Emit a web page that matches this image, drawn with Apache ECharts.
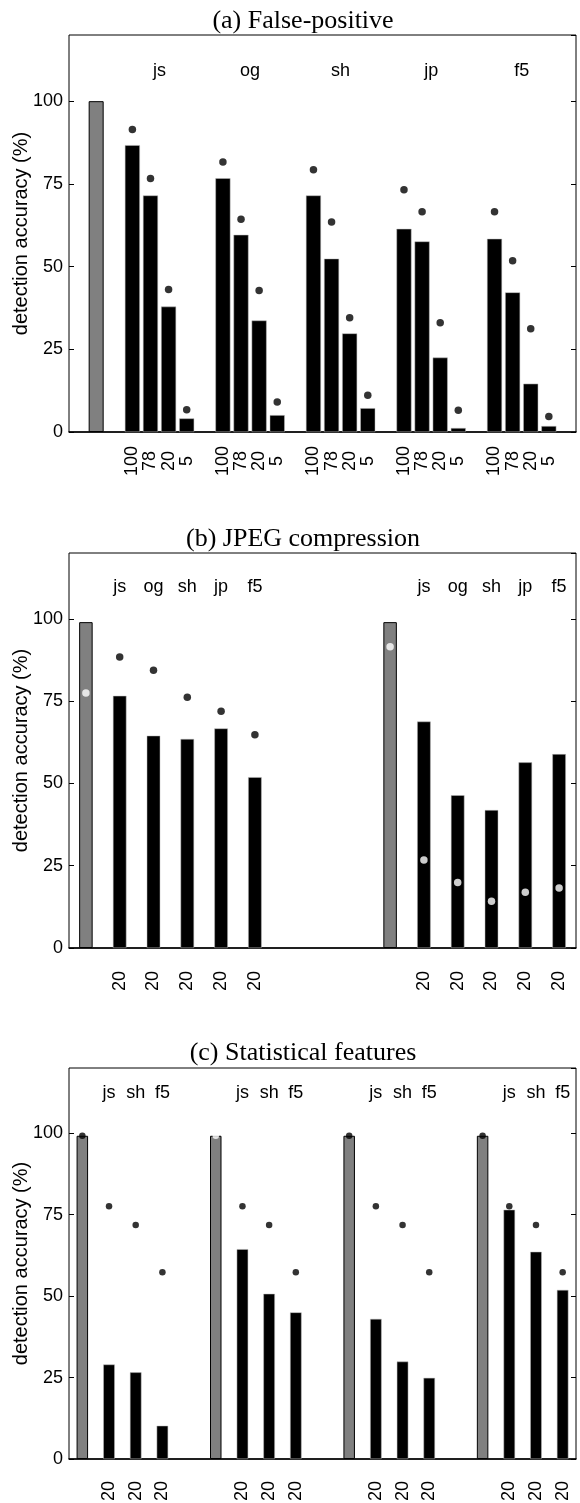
<!DOCTYPE html>
<html>
<head>
<meta charset="utf-8">
<script src="https://cdn.jsdelivr.net/npm/echarts@6/dist/echarts.min.js"></script>
<style>
  html, body { margin: 0; padding: 0; background: #fff; }
  #chart { width: 580px; height: 1503px; }
</style>
</head>
<body>
<div id="chart"></div>
<script>
// (a) false-positive: one cover bar, then 4 quality levels for each tool
const fpTools = ['js', 'og', 'sh', 'jp', 'f5'];
const fpQualities = ['100', '78', '20', '5'];
const fpCover = 100;
const fpBars = [
  86.7, 71.5, 37.9, 4.1,
  76.7, 59.6, 33.7, 5.1,
  71.5, 52.4, 29.8, 7.2,
  61.4, 57.6, 22.5, 1.2,
  58.4, 42.2, 14.6, 1.8
];
const fpDots = [
  91.4, 76.6, 43.1, 6.7,
  81.6, 64.3, 42.8, 9.1,
  79.3, 63.5, 34.5, 11.1,
  73.2, 66.6, 33.0, 6.6,
  66.6, 51.8, 31.2, 4.7
];

// (b) JPEG compression: two halves, each a cover bar + 5 tools
const jpegTools = ['js', 'og', 'sh', 'jp', 'f5'];
const jpegQuality = '20';
const jpegCover = [99.0, 99.0];
const jpegCoverDots = [77.5, 91.5];
const jpegBarsLeft = [76.6, 64.5, 63.5, 66.7, 51.9];
const jpegDotsLeft = [88.4, 84.4, 76.2, 71.9, 64.8];
const jpegBarsRight = [68.8, 46.4, 41.9, 56.4, 58.9];
const jpegDotsRight = [26.7, 19.9, 14.2, 16.9, 18.2];

// (c) statistical features: four groups, cover bar + 3 tools
const statTools = ['js', 'sh', 'f5'];
const statQuality = '20';
const statCover = [99.2, 99.2, 99.2, 99.2];
const statCoverDotsBlack = [99.2, null, 99.2, 99.2];
const statCoverDotsWhite = [null, 99.2, null, null];
const statBars = [
  29.0, 26.6, 10.2,
  64.4, 50.7, 45.0,
  43.0, 29.9, 24.9,
  76.5, 63.6, 51.9
];
const statDots = [
  77.6, 71.8, 57.3,
  77.6, 71.8, 57.3,
  77.6, 71.8, 57.3,
  77.6, 71.8, 57.3
];

const yTicks = [0, 25, 50, 75, 100];
const yLabel = 'detection accuracy (%)';
const titles = ['(a) False-positive', '(b) JPEG compression', '(c) Statistical features'];

const SANS = 'Liberation Sans, Arial, sans-serif';
const SERIF = 'Liberation Serif, Times New Roman, serif';
const GRAY = '#808080';

function emptySlots(n) {
  return {
    n,
    ticks: Array(n).fill(''),
    heads: Array(n).fill(''),
    cover: Array(n).fill(null),
    bars: Array(n).fill(null),
    black: Array(n).fill(null),
    white: Array(n).fill(null)
  };
}

// panel a
const slotsA = emptySlots(28);
slotsA.cover[1] = fpCover;
fpTools.forEach((t, ti) => {
  fpQualities.forEach((q, qi) => {
    const s = 3 + ti * 5 + qi;
    slotsA.ticks[s] = q;
    slotsA.bars[s] = fpBars[ti * 4 + qi];
    slotsA.black[s] = fpDots[ti * 4 + qi];
  });
});

// panel b
const slotsB = emptySlots(15);
[0, 9].forEach((start, h) => {
  slotsB.cover[start] = jpegCover[h];
  slotsB.white[start] = jpegCoverDots[h];
  const bars = h === 0 ? jpegBarsLeft : jpegBarsRight;
  const dots = h === 0 ? jpegDotsLeft : jpegDotsRight;
  jpegTools.forEach((t, ti) => {
    const s = start + 1 + ti;
    slotsB.ticks[s] = jpegQuality;
    slotsB.heads[s] = t;
    slotsB.bars[s] = bars[ti];
    if (h === 0) slotsB.black[s] = dots[ti];
    else slotsB.white[s] = dots[ti];
  });
});

// panel c
const slotsC = emptySlots(19);
statCover.forEach((v, g) => {
  const start = g * 5;
  slotsC.cover[start] = v;
  slotsC.black[start] = statCoverDotsBlack[g];
  slotsC.white[start] = statCoverDotsWhite[g];
  statTools.forEach((t, ti) => {
    const s = start + 1 + ti;
    slotsC.ticks[s] = statQuality;
    slotsC.heads[s] = t;
    slotsC.bars[s] = statBars[g * 3 + ti];
    slotsC.black[s] = statDots[g * 3 + ti];
  });
});

const panels = [
  { slots: slotsA, top: 35, height: 397, barWidth: 15, dot: 7.5, tickMargin: 29, headMargin: 36, titleTop: 3 },
  { slots: slotsB, top: 553, height: 395, barWidth: 13.5, dot: 7.5, tickMargin: 33, headMargin: 34, titleTop: 521 },
  { slots: slotsC, top: 1068, height: 391, barWidth: 11.5, dot: 6.5, tickMargin: 32, headMargin: 25, titleTop: 1035 }
];

const grid = [], xAxis = [], yAxis = [], series = [], title = [];

panels.forEach((p, i) => {
  const s = p.slots;
  const ids = s.ticks.map((_, k) => 'slot' + k);
  grid.push({
    left: 69, right: 4, top: p.top, height: p.height,
    containLabel: false, outerBoundsMode: 'none',
    show: true, borderColor: '#000', borderWidth: 1, backgroundColor: 'transparent'
  });
  title.push({
    text: titles[i], left: 298, top: p.titleTop, textAlign: 'center',
    textStyle: { fontFamily: SERIF, fontSize: 26, fontWeight: 'normal', color: '#000' }
  });

  // bottom category axis with rotated quality labels
  const xi = xAxis.length;
  xAxis.push({
    type: 'category', gridIndex: i, data: ids, position: 'bottom',
    axisLine: { lineStyle: { color: '#000', width: 1.5 } },
    axisTick: { show: false },
    axisLabel: {
      interval: 0, rotate: 90, align: 'center', verticalAlign: 'middle',
      margin: p.tickMargin, fontFamily: SANS, fontSize: 18, color: '#000',
      formatter: (v, k) => s.ticks[k]
    },
    splitLine: { show: false }
  });

  // top axis carrying the tool names
  if (i === 0) {
    xAxis.push({
      type: 'value', gridIndex: i, position: 'top', min: 0, max: s.n, interval: 5,
      axisLine: { show: false }, axisTick: { show: false }, splitLine: { show: false },
      axisLabel: {
        inside: true, margin: p.headMargin, verticalAlign: 'middle',
        fontFamily: SANS, fontSize: 18, color: '#000',
        formatter: v => fpTools[v / 5 - 1] || ''
      }
    });
  } else {
    xAxis.push({
      type: 'category', gridIndex: i, position: 'top', data: ids,
      axisLine: { show: false }, axisTick: { show: false }, splitLine: { show: false },
      axisLabel: {
        interval: 0, inside: true, margin: p.headMargin, verticalAlign: 'middle',
        fontFamily: SANS, fontSize: 18, color: '#000',
        formatter: (v, k) => s.heads[k]
      }
    });
  }

  const yi = yAxis.length;
  const yBase = {
    type: 'value', gridIndex: i, min: 0, max: 120, interval: 25,
    axisLine: { show: false },
    axisTick: { show: true, inside: true, length: 5, lineStyle: { color: '#000' } },
    splitLine: { show: false }
  };
  yAxis.push(Object.assign({}, yBase, {
    position: 'left',
    name: yLabel, nameLocation: 'middle', nameGap: 38, nameRotate: 90,
    nameMoveOverlap: false,
    nameTextStyle: { fontFamily: SANS, fontSize: 20, color: '#000' },
    axisLabel: {
      margin: 6, fontFamily: SANS, fontSize: 18, color: '#000', showMaxLabel: false,
      formatter: v => (yTicks.includes(v) ? String(v) : '')
    }
  }));
  yAxis.push(Object.assign({}, yBase, { position: 'right', axisLabel: { show: false } }));

  series.push({
    type: 'bar', xAxisIndex: xi, yAxisIndex: yi, data: s.cover,
    barWidth: p.barWidth, barGap: '-100%',
    itemStyle: { color: GRAY, borderColor: '#000', borderWidth: 1 }
  });
  series.push({
    type: 'bar', xAxisIndex: xi, yAxisIndex: yi, data: s.bars,
    barWidth: p.barWidth, barGap: '-100%',
    itemStyle: { color: '#000', borderColor: '#bbb', borderWidth: 0.5 }
  });
  const pts = arr => arr.map((v, k) => (v == null ? null : [k, v])).filter(Boolean);
  series.push({
    type: 'scatter', xAxisIndex: xi, yAxisIndex: yi, data: pts(s.black), z: 5,
    symbol: 'circle', symbolSize: p.dot, itemStyle: { color: '#000' }
  });
  series.push({
    type: 'scatter', xAxisIndex: xi, yAxisIndex: yi, data: pts(s.white), z: 5,
    symbol: 'circle', symbolSize: p.dot, itemStyle: { color: '#fff' }
  });
});

const chart = echarts.init(document.getElementById('chart'));
chart.setOption({
  animation: false,
  backgroundColor: '#fff',
  title, grid, xAxis, yAxis, series
});
</script>
</body>
</html>
